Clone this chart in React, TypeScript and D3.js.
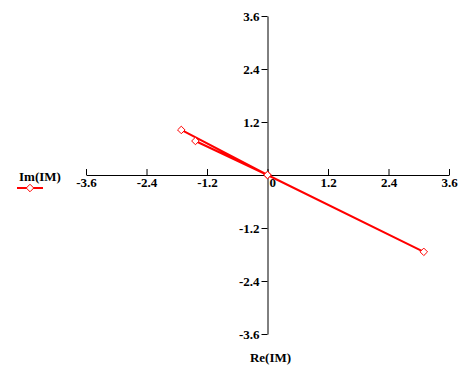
import React, { useRef, useEffect } from 'react';
import * as d3 from 'd3';

// Re / Im values
const reValues = [-1.43, 0, -1.71, 0, 3.1];
const imValues = [0.77, 0, 1.02, 0, -1.74];
const tickValues = [-3.6, -2.4, -1.2, 0, 1.2, 2.4, 3.6];
const seriesName = 'Im(IM)';
const xTitle = 'Re(IM)';

const W = 471;
const H = 365;
const FONT = 'Liberation Serif';
const FS = 13;

const App = () => {
  const svgRef = useRef<SVGSVGElement | null>(null);

  useEffect(() => {
    const svg = d3.select(svgRef.current);
    svg.selectAll('*').remove();

    const x = d3.scaleLinear().domain([-3.6, 3.6]).range([86, 449]);
    const y = d3.scaleLinear().domain([-3.6, 3.6]).range([334, 16]);

    const fmt = (d: d3.NumberValue) => (+d === 0 ? '' : String(d));

    // x axis through the origin, ticks pointing up
    const gx = svg.append('g')
      .attr('transform', `translate(0,${y(0)})`)
      .call(d3.axisBottom(x).tickValues(tickValues).tickFormat(fmt).tickSizeInner(-6).tickSizeOuter(0).tickPadding(3));
    gx.select('.domain').attr('stroke', '#000');
    gx.selectAll('text').style('font-family', FONT).style('font-size', FS + 'px').style('font-weight', 'bold').attr('fill', '#000');

    // y axis through the origin, ticks pointing left
    const gy = svg.append('g')
      .attr('transform', `translate(${x(0)},0)`)
      .call(d3.axisLeft(y).tickValues(tickValues).tickFormat(fmt).tickSizeInner(6).tickSizeOuter(0).tickPadding(2));
    gy.select('.domain').attr('stroke', '#000');
    gy.selectAll('text').style('font-family', FONT).style('font-size', FS + 'px').style('font-weight', 'bold').attr('fill', '#000');

    // origin label
    svg.append('text')
      .attr('x', x(0) + 2).attr('y', y(0) + 12)
      .style('font-family', FONT).style('font-size', FS + 'px').style('font-weight', 'bold')
      .text('0');

    const pts = reValues.map((v, i) => [v, imValues[i]] as [number, number]);

    const line = d3.line<[number, number]>()
      .x(d => x(d[0]))
      .y(d => y(d[1]));

    svg.append('path')
      .datum(pts)
      .attr('fill', 'none')
      .attr('stroke', '#ff0000')
      .attr('stroke-width', 2)
      .attr('d', line);

    const diamond = d3.symbol().type(d3.symbolDiamond2).size(36);

    svg.selectAll('path.mk')
      .data(pts)
      .join('path')
      .attr('class', 'mk')
      .attr('transform', d => `translate(${x(d[0])},${y(d[1])})`)
      .attr('d', diamond)
      .attr('fill', 'white')
      .attr('stroke', '#ff0000')
      .attr('stroke-width', 1);

    // legend
    svg.append('text')
      .attr('x', 19).attr('y', 181)
      .style('font-family', FONT).style('font-size', FS + 'px').style('font-weight', 'bold')
      .text(seriesName);
    svg.append('line')
      .attr('x1', 17).attr('x2', 43).attr('y1', 188).attr('y2', 188)
      .attr('stroke', '#ff0000').attr('stroke-width', 2);
    svg.append('path')
      .attr('transform', 'translate(30,188)')
      .attr('d', diamond)
      .attr('fill', 'white')
      .attr('stroke', '#ff0000');

    // axis title
    svg.append('text')
      .attr('x', x(0) + 3).attr('y', 362)
      .attr('text-anchor', 'middle')
      .style('font-family', FONT).style('font-size', FS + 'px').style('font-weight', 'bold')
      .text(xTitle);
  }, []);

  return (
    <svg ref={svgRef} width={W} height={H}
      style={{ position: 'absolute', left: 0, top: 0, background: '#fff' }} />
  );
};

export default App;
